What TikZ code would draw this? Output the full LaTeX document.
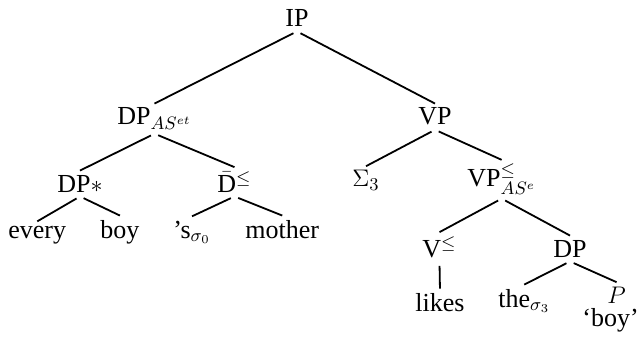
\documentclass[tikz,border=0pt]{standalone}
\usepackage{fontspec}
\setmainfont{Liberation Serif}
\usetikzlibrary{positioning}

\begin{document}
\begin{tikzpicture}[x=0.5pt,y=-0.5pt,
	branch/.style={line width=0.9pt, shorten <=2pt}]
\useasboundingbox (0,0) rectangle (640,341);
\begin{scope}[every node/.style={anchor=base west, inner sep=2pt, font=\fontsize{13}{15}\selectfont}]
\node at (281,27)(IP){IP};
\node at (113,125)(DPas){DP$_{AS^{et}}$};
\node at (414,125)(VP){VP};
%second row
\node at (53,192)(DPstar){DP$\ast$};
\node at (213,192)(Dbar){$\bar{\mathrm{D}}^{\le}$};
\node at (348,187)(Sigma){$\Sigma_3$};
\node at (463,187)(VPas){VP$^{\le}_{AS^{e}}$};
%leaves
\node at (4,238)(every){every};
\node at (96,238)(boy){boy};
\node at (169,238)(poss){’s$_{\sigma_0}$};
\node at (241,238)(mother){mother};
\node at (418,257)(V){V$^{\le}$};
\node at (549,257)(DPlow){DP};
\node at (411,311)(likes){likes};
\node at (494,307)(the){the$_{\sigma_3}$};
\node at (603,303)(P){$P$};
\node [below=-1.5pt of P, xshift=-3pt](gloss){‘boy’};
\end{scope}

\draw[branch] (IP.south) -- (DPas.north);
\draw[branch] (IP.south) -- (VP.north);
\draw[branch] (DPas.south) -- (DPstar.north);
\draw[branch] (DPas.south) -- (Dbar.north);
\draw[branch] (DPstar.south) -- (every.north);
\draw[branch] (DPstar.south) -- (boy.north);
\draw[branch] (Dbar.south) -- (poss.north);
\draw[branch] (Dbar.south) -- (mother.north);
\draw[branch] (VP.south) -- (Sigma.north);
\draw[branch] (VP.south) -- (VPas.north);
\draw[branch] (VPas.south) -- (V.north);
\draw[branch] (VPas.south) -- (DPlow.north);
\draw[branch] (V.south) -- (likes.north);
\draw[branch] (DPlow.south) -- (the.north);
\draw[branch] (DPlow.south) -- (P.north);

\end{tikzpicture}
\end{document}
